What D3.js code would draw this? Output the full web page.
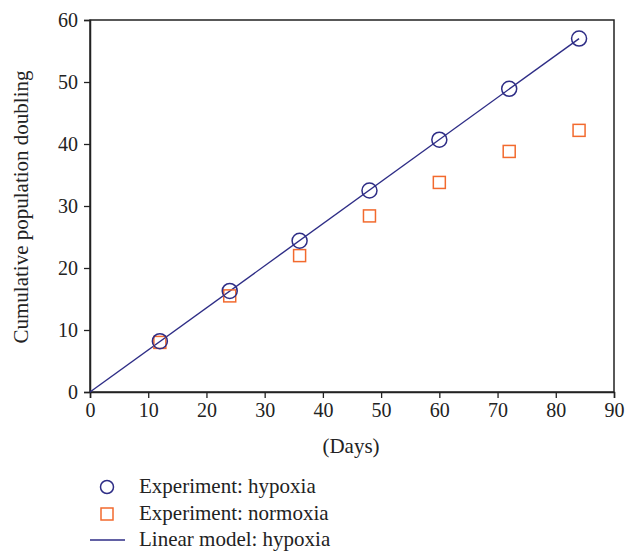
<!DOCTYPE html>
<html>
<head>
<meta charset="utf-8">
<script src="https://cdn.jsdelivr.net/npm/d3@7"></script>
<style>
  body { margin: 0; background: #fff; }
  svg text { font-family: "Liberation Serif", "DejaVu Serif", serif; fill: #222; }
</style>
</head>
<body>
<svg id="chart" width="634" height="552"></svg>
<script>
// data
var days = [12, 24, 36, 48, 60, 72, 84];
var hypoxia = [8.2, 16.3, 24.4, 32.5, 40.7, 48.9, 57.0];
var normoxia = [8.0, 15.5, 22.0, 28.4, 33.8, 38.8, 42.2];
var modelDays = [0, 84];
var modelVals = [0, 57.0];
var xTicks = [0, 10, 20, 30, 40, 50, 60, 70, 80, 90];
var yTicks = [0, 10, 20, 30, 40, 50, 60];
var legendLabels = ['Experiment: hypoxia', 'Experiment: normoxia', 'Linear model: hypoxia'];

var navy = '#2e2d86',
    orange = '#f26a2e',
    tickFont = '20px',
    labelFont = '21px';

var svg = d3.select('#chart'),
    mLeft = 90, mRight = 614, mTop = 20, mBottom = 392;

var x = d3.scaleLinear().domain([0, 90]).range([mLeft, mRight]);
var y = d3.scaleLinear().domain([0, 60]).range([mBottom, mTop]);

// frame
svg.append('rect')
  .attr('x', mLeft).attr('y', mTop)
  .attr('width', mRight - mLeft).attr('height', mBottom - mTop)
  .attr('fill', 'none').attr('stroke', '#222').attr('stroke-width', 1.5);

var xAxis = svg.append('g')
  .attr('transform', 'translate(0,' + mBottom + ')')
  .call(d3.axisBottom(x).tickValues(xTicks).tickSize(6).tickPadding(5));
var yAxis = svg.append('g')
  .attr('transform', 'translate(' + mLeft + ',0)')
  .call(d3.axisLeft(y).tickValues(yTicks).tickSize(6).tickPadding(6));

[xAxis, yAxis].forEach(function(g) {
  g.select('.domain').attr('stroke', '#222').attr('stroke-width', 1.5);
  g.selectAll('.tick line').attr('stroke', '#222').attr('stroke-width', 1.3);
  g.selectAll('.tick text')
    .style('font-family', '"Liberation Serif", serif')
    .style('font-size', tickFont)
    .attr('fill', '#222');
});

// axis titles
svg.append('text')
  .attr('x', 351).attr('y', 453)
  .attr('text-anchor', 'middle')
  .style('font-size', labelFont)
  .text('(Days)');
svg.append('text')
  .attr('transform', 'translate(28,' + 207 + ') rotate(-90)')
  .attr('text-anchor', 'middle')
  .style('font-size', labelFont)
  .text('Cumulative population doubling');

// linear model
var line = d3.line()
  .x(function(d) { return x(d[0]); })
  .y(function(d) { return y(d[1]); });
svg.append('path')
  .datum(d3.zip(modelDays, modelVals))
  .attr('d', line)
  .attr('fill', 'none').attr('stroke', navy).attr('stroke-width', 1.4);

// normoxia squares
var sq = 12;
svg.append('g').selectAll('rect')
  .data(d3.zip(days, normoxia))
  .enter().append('rect')
  .attr('x', function(d) { return x(d[0]) - sq / 2; })
  .attr('y', function(d) { return y(d[1]) - sq / 2; })
  .attr('width', sq).attr('height', sq)
  .attr('fill', 'none').attr('stroke', orange).attr('stroke-width', 1.5);

// hypoxia circles
svg.append('g').selectAll('circle')
  .data(d3.zip(days, hypoxia))
  .enter().append('circle')
  .attr('cx', function(d) { return x(d[0]); })
  .attr('cy', function(d) { return y(d[1]); })
  .attr('r', 7.5)
  .attr('fill', 'none').attr('stroke', navy).attr('stroke-width', 1.5);

// legend
var lg = svg.append('g');
var rowY = [487, 514, 540];
lg.append('circle').attr('cx', 107).attr('cy', rowY[0]).attr('r', 6.5)
  .attr('fill', 'none').attr('stroke', navy).attr('stroke-width', 1.5);
lg.append('rect').attr('x', 101).attr('y', rowY[1] - 6).attr('width', 12).attr('height', 12)
  .attr('fill', 'none').attr('stroke', orange).attr('stroke-width', 1.5);
lg.append('line').attr('x1', 90).attr('x2', 125).attr('y1', rowY[2]).attr('y2', rowY[2])
  .attr('stroke', navy).attr('stroke-width', 1.4);
lg.selectAll('text')
  .data(legendLabels)
  .enter().append('text')
  .attr('x', 139)
  .attr('y', function(d, i) { return rowY[i] + 6; })
  .style('font-size', labelFont)
  .text(function(d) { return d; });
</script>
</body>
</html>
